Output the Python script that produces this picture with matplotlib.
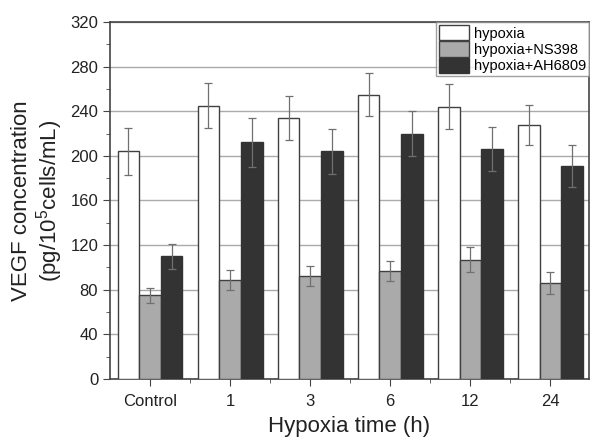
import numpy as np
import matplotlib
matplotlib.use("Agg")
import matplotlib.pyplot as plt
from matplotlib.ticker import MultipleLocator

plt.rcParams['font.family'] = ['Liberation Sans', 'DejaVu Sans']

# data
groups = ["Control", "1", "3", "6", "12", "24"]
hypoxia = [204, 245, 234, 255, 244, 228]
hypoxia_err = [21, 20, 20, 19, 20, 18]
ns398 = [75, 89, 92, 97, 107, 86]
ns398_err = [7, 9, 9, 9, 11, 10]
ah6809 = [110, 212, 204, 220, 206, 191]
ah6809_err = [11, 22, 20, 20, 20, 19]

fig = plt.figure(figsize=(5.9, 4.37), dpi=100)
ax = fig.add_axes([0.1864, 0.1327, 0.8116, 0.817])

x = np.arange(len(groups))
w = 0.27
edge = "#404040"
ekw = dict(ecolor="#707070", elinewidth=0.9, capsize=3, capthick=0.9)

ax.bar(x - w, hypoxia, w, yerr=hypoxia_err, color="white", edgecolor=edge,
       linewidth=1.0, label="hypoxia", error_kw=ekw, zorder=3)
ax.bar(x, ns398, w, yerr=ns398_err, color="#aaaaaa", edgecolor=edge,
       linewidth=1.0, label="hypoxia+NS398", error_kw=ekw, zorder=3)
ax.bar(x + w, ah6809, w, yerr=ah6809_err, color="#333333", edgecolor="#333333",
       linewidth=1.0, label="hypoxia+AH6809", error_kw=ekw, zorder=3)

ax.set_xlim(-0.5, 5.48)
ax.set_ylim(0, 320)
ax.set_xticks(x)
ax.set_xticklabels(groups)
ax.set_xticks(x[:-1] + 0.5, minor=True)
ax.yaxis.set_major_locator(MultipleLocator(40))
ax.yaxis.set_minor_locator(MultipleLocator(20))
ax.tick_params(axis="both", which="major", labelsize=12, labelcolor="#222222",
               color="#444444", length=5, direction="out")
ax.tick_params(axis="x", which="major", pad=6)
ax.tick_params(axis="both", which="minor", color="#444444", length=3, direction="out")
ax.grid(axis="y", which="major", color="#aaaaaa", linewidth=1.0, zorder=0)
for s in ax.spines.values():
    s.set_color("#444444")
    s.set_linewidth(1.2)

ax.set_ylabel("VEGF concentration\n(pg/10$^{\\mathregular{5}}$cells/mL)", fontsize=16,
              color="#222222", linespacing=1.1)
ax.set_xlabel("Hypoxia time (h)", fontsize=16, color="#222222", labelpad=5)

leg = ax.legend(loc="upper right", fontsize=10.5, frameon=True, fancybox=False,
                borderaxespad=0, handlelength=2.1, handleheight=1.25,
                handletextpad=0.3, borderpad=0.2, labelspacing=0.05)
leg.get_frame().set_edgecolor("#888888")
leg.get_frame().set_linewidth(1.0)

fig.savefig("out.png", dpi=100)
